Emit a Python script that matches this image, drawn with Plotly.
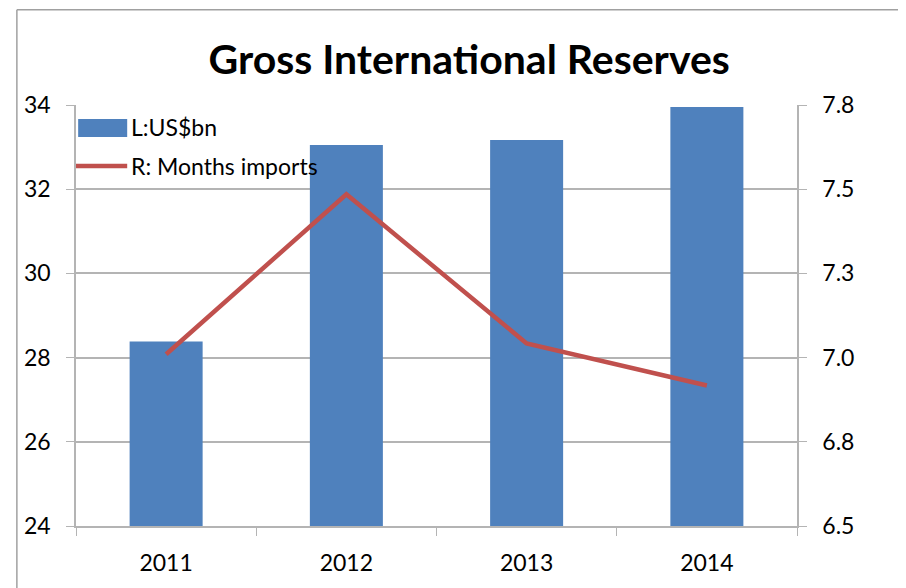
import plotly.graph_objects as go

years = ["2011", "2012", "2013", "2014"]
reserves_usd_bn = [28.38, 33.05, 33.17, 33.95]
months_imports = [7.01, 7.485, 7.042, 6.917]

right_tickvals = [6.5, 6.75, 7.0, 7.25, 7.5, 7.75]
right_ticktext = ["6.5", "6.8", "7.0", "7.3", "7.5", "7.8"]

BAR_NAME = "L:US$bn"
LINE_NAME = "R: Months imports"
BLUE = "#4F81BD"
RED = "#C0504D"
FONT = "Lato"
GRID = "#B4B4B4"
FS = 23

fig = go.Figure()
fig.add_trace(go.Bar(
    x=years, y=reserves_usd_bn, name=BAR_NAME,
    marker=dict(color=BLUE, line=dict(width=0)),
    width=0.405, yaxis="y",
))
fig.add_trace(go.Scatter(
    x=years, y=months_imports, name=LINE_NAME,
    mode="lines", line=dict(color=RED, width=4.5),
    yaxis="y2",
))

# page body adds an 8px offset, margins compensate for it
fig.update_layout(
    width=906, height=588,
    margin=dict(l=68, r=117, t=97, b=70),
    paper_bgcolor="white", plot_bgcolor="white",
    font=dict(family=FONT, size=FS, color="black"),
    title=dict(text="<b>Gross International Reserves</b>", x=0.509, xanchor="center",
               y=0.912, yanchor="middle", font=dict(family=FONT, size=41)),
    showlegend=False,
    xaxis=dict(type="category", showline=True, linecolor=GRID, linewidth=1.5,
               ticks="outside", tickson="boundaries", ticklen=8, tickcolor=GRID,
               showgrid=False, tickfont=dict(size=FS), ticklabelstandoff=16),
    yaxis=dict(range=[24, 34], dtick=2, showline=True, linecolor=GRID, linewidth=1.5,
               ticks="outside", ticklen=8, tickcolor=GRID,
               showgrid=True, gridcolor=GRID, gridwidth=1.5,
               zeroline=False, tickfont=dict(size=FS), ticklabelstandoff=11),
    yaxis2=dict(range=[6.5, 7.75], overlaying="y", side="right",
                tickvals=right_tickvals, ticktext=right_ticktext,
                showline=True, linecolor=GRID, linewidth=1.5,
                ticks="outside", ticklen=8, tickcolor=GRID,
                showgrid=False, zeroline=False, tickfont=dict(size=FS),
                ticklabelstandoff=11),
)

# legend, drawn by hand to match the wide swatches
fig.add_shape(type="rect", xref="paper", yref="paper",
              x0=0.003, x1=0.071, y0=0.924, y1=0.967,
              fillcolor=BLUE, line=dict(width=0))
fig.add_shape(type="line", xref="paper", yref="paper",
              x0=0.0, x1=0.071, y0=0.855, y1=0.855,
              line=dict(color=RED, width=4.5))
fig.add_annotation(text=BAR_NAME, xref="paper", yref="paper", x=0.074, y=0.947,
                   xanchor="left", yanchor="middle", showarrow=False,
                   font=dict(size=FS))
fig.add_annotation(text=LINE_NAME, xref="paper", yref="paper", x=0.074, y=0.855,
                   xanchor="left", yanchor="middle", showarrow=False,
                   font=dict(size=FS))

# chart area border (top and left edges)
fig.add_shape(type="line", xref="paper", yref="paper",
              x0=-0.082, x1=1.2, y0=1.226, y1=1.226,
              line=dict(color="#A0A0A0", width=1.5))
fig.add_shape(type="line", xref="paper", yref="paper",
              x0=-0.082, x1=-0.082, y0=-0.2, y1=1.226,
              line=dict(color="#A0A0A0", width=1.5))

fig.write_html("out.html")
